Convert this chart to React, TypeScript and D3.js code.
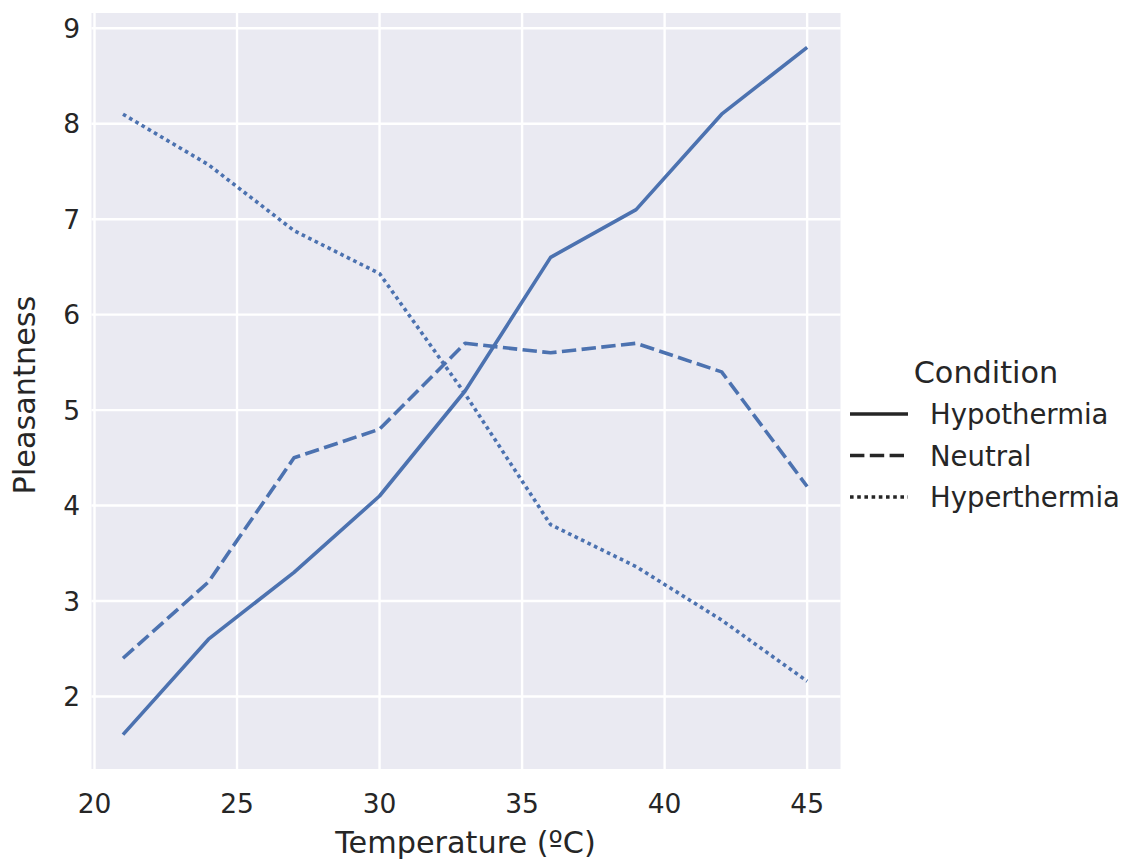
import React from "react";
import * as d3 from "d3";

const temps = [21, 24, 27, 30, 33, 36, 39, 42, 45];
const hypothermia = [1.6, 2.6, 3.3, 4.1, 5.2, 6.6, 7.1, 8.1, 8.8];
const neutral = [2.4, 3.2, 4.5, 4.8, 5.7, 5.6, 5.7, 5.4, 4.2];
const hyperthermia = [8.1, 7.57, 6.88, 6.43, 5.17, 3.8, 3.36, 2.8, 2.16];
const seriesNames = ["Hypothermia", "Neutral", "Hyperthermia"];
const xTicks = [20, 25, 30, 35, 40, 45];
const yTicks = [2, 3, 4, 5, 6, 7, 8, 9];

const W = 1122, H = 859;
const left = 91.5, right = 840.5, top = 13, bottom = 769;
const color = "#4c72b0";
const font = "'DejaVu Sans', sans-serif";
const lw = 3.6;
const dashes = ["none", `${4 * lw},${1.5 * lw}`, `${lw},${lw}`];

export default function App() {
  const x = d3.scaleLinear().domain([19.895, 46.17]).range([left, right]);
  const y = d3.scaleLinear().domain([1.24, 9.16]).range([bottom, top]);
  const line = d3.line<[number, number]>().x(d => x(d[0])).y(d => y(d[1]));
  const all = [hypothermia, neutral, hyperthermia];
  return (
    <svg width={W} height={H} style={{ position: "absolute", left: 0, top: 0, background: "#fff" }} fontFamily={font}>
      <rect x={left} y={top} width={right - left} height={bottom - top} fill="#eaeaf2" />
      {xTicks.map(t => (
        <line key={"gx" + t} x1={x(t)} x2={x(t)} y1={top} y2={bottom} stroke="#fff" strokeWidth={2.4} />
      ))}
      {yTicks.map(t => (
        <line key={"gy" + t} x1={left} x2={right} y1={y(t)} y2={y(t)} stroke="#fff" strokeWidth={2.4} />
      ))}
      {all.map((s, i) => (
        <path key={i} d={line(temps.map((t, j) => [t, s[j]]) as [number, number][]) || ""}
          fill="none" stroke={color} strokeWidth={lw} strokeDasharray={dashes[i]} strokeLinejoin="round" />
      ))}
      {xTicks.map(t => (
        <text key={"tx" + t} x={x(t)} y={813} textAnchor="middle" fontSize={26.5} fill="#262626">{t}</text>
      ))}
      {yTicks.map(t => (
        <text key={"ty" + t} x={80} y={y(t) + 9.5} textAnchor="end" fontSize={26.5} fill="#262626">{t}</text>
      ))}
      <text x={(left + right) / 2 - 0.5} y={853} textAnchor="middle" fontSize={30.3} fill="#262626">Temperature (ºC)</text>
      <text transform={`translate(35,${395}) rotate(-90)`} textAnchor="middle" fontSize={30.3} fill="#262626">Pleasantness</text>
      <text x={986} y={383} textAnchor="middle" fontSize={30.3} fill="#262626">Condition</text>
      {seriesNames.map((n, i) => (
        <g key={n}>
          <line x1={850} x2={908} y1={414 + i * 41.5} y2={414 + i * 41.5} stroke="#262626" strokeWidth={lw} strokeDasharray={dashes[i]} />
          <text x={930} y={414 + i * 41.5 + 10} fontSize={27.5} fill="#262626">{n}</text>
        </g>
      ))}
    </svg>
  );
}
